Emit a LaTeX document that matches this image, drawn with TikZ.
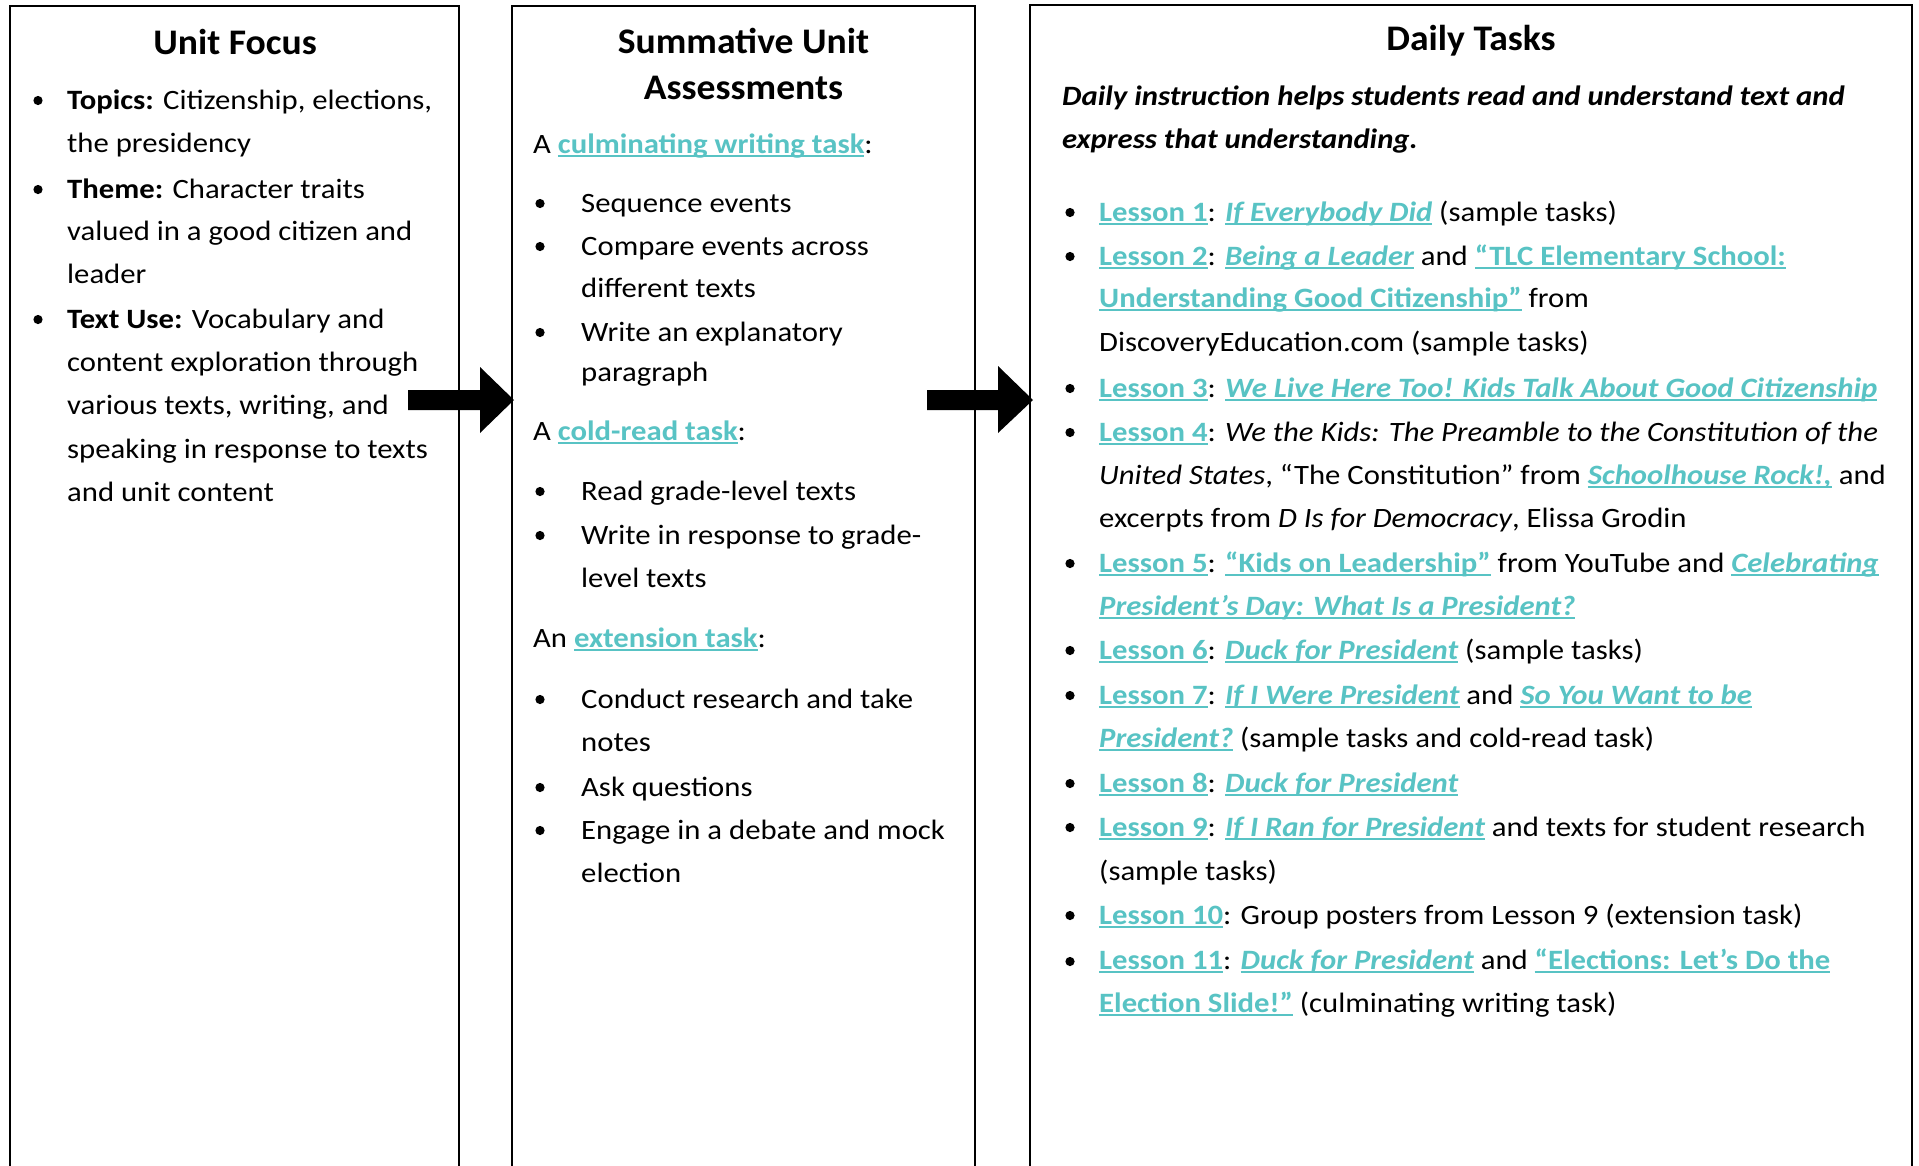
\documentclass[tikz,border=0pt]{standalone}
\usepackage{fontspec}
\setmainfont{Carlito}[FakeStretch=1.097]
\newfontfamily\headfont{Carlito}[FakeStretch=1.045]
\definecolor{lk}{RGB}{88,195,196}
\newcommand\lnk[1]{{\color{lk}\bfseries\setbox0\hbox{#1}\rlap{\rule[-4.4pt]{\wd0}{2.7pt}}\box0}}
\tikzset{
  boxline/.style={line width=2.6pt, black},
  txt/.style={anchor=base west, inner sep=0pt, font=\fontsize{28}{34}\selectfont},
  head/.style={anchor=base, inner sep=0pt, font=\headfont\fontsize{36}{44}\selectfont\bfseries},
  bul/.style={fill=black},
  bigarrow/.style={fill=black}
}
\begin{document}
\begin{tikzpicture}[x=1pt,y=-1pt]
\fill[white] (0,0) rectangle (1919,1165);
\useasboundingbox (0,0) rectangle (1919,1165);
% boxes (open at the bottom)
\coordinate (b1tl) at (10,6);   \coordinate (b1tr) at (459,6);
\coordinate (b2tl) at (512,6);  \coordinate (b2tr) at (975,6);
\coordinate (b3tl) at (1030,5); \coordinate (b3tr) at (1912,5);
\draw[boxline] (10,1170) -- (b1tl) -- (b1tr) -- (459,1170);
\draw[boxline] (512,1170) -- (b2tl) -- (b2tr) -- (975,1170);
\draw[boxline] (1030,1170) -- (b3tl) -- (b3tr) -- (1912,1170);
% arrows
\coordinate (a1tip) at (514,400);
\coordinate (a2tip) at (1033,400);
\fill[bigarrow] (408,390) -- (480,390) -- (480,367) -- (a1tip) -- (480,433) -- (480,410) -- (408,410) -- cycle;
\fill[bigarrow] (927,390) -- (998,390) -- (998,366) -- (a2tip) -- (998,433) -- (998,410) -- (927,410) -- cycle;

% ---- Box 1
\node[head] (h1) at (235,54) {Unit Focus};
\foreach \y in {109,198,328} {\fill[bul] (38,\y-8.5) circle[radius=4.6pt];}
\node[txt] (u1) at (67,109) {\textbf{Topics:} Citizenship, elections,};
\node[txt] (u2) at (67,152) {the presidency};
\node[txt] (u3) at (67,198) {\textbf{Theme:} Character traits};
\node[txt] (u4) at (67,240) {valued in a good citizen and};
\node[txt] (u5) at (67,283) {leader};
\node[txt] (u6) at (67,328) {\textbf{Text Use:} Vocabulary and};
\node[txt] (u7) at (67,371) {content exploration through};
\node[txt] (u8) at (67,414) {various texts, writing, and};
\node[txt] (u9) at (67,458) {speaking in response to texts};
\node[txt] (u10) at (67,501) {and unit content};

% ---- Box 2
\node[head] (h2a) at (743.5,53) {Summative Unit};
\node[head] (h2b) at (743.5,99) {Assessments};
\foreach \y in {212,255,341,500,544,708,796,839} {\fill[bul] (540,\y-8.5) circle[radius=4.6pt];}
\node[txt] (s1) at (533,153) {A \lnk{culminating writing task}:};
\node[txt] (s2) at (581,212) {Sequence events};
\node[txt] (s3) at (581,255) {Compare events across};
\node[txt] (s4) at (581,297) {different texts};
\node[txt] (s5) at (581,341) {Write an explanatory};
\node[txt] (s6) at (581,381) {paragraph};
\node[txt] (s7) at (533,440) {A \lnk{cold-read task}:};
\node[txt] (s8) at (581,500) {Read grade-level texts};
\node[txt] (s9) at (581,544) {Write in response to grade-};
\node[txt] (s10) at (581,587) {level texts};
\node[txt] (s11) at (533,647) {An \lnk{extension task}:};
\node[txt] (s12) at (581,708) {Conduct research and take};
\node[txt] (s13) at (581,751) {notes};
\node[txt] (s14) at (581,796) {Ask questions};
\node[txt] (s15) at (581,839) {Engage in a debate and mock};
\node[txt] (s16) at (581,882) {election};

% ---- Box 3
\node[head] (h3) at (1471,50) {Daily Tasks};
\node[txt,font=\fontsize{28}{34}\selectfont\bfseries\itshape] (d1) at (1062,105) {Daily instruction helps students read and understand text and};
\node[txt,font=\fontsize{28}{34}\selectfont\bfseries\itshape] (d2) at (1062,148) {express that understanding.};
\foreach \y in {221,265,397,441,572,659,704,792,836,924,970} {\fill[bul] (1070,\y-8.5) circle[radius=4.6pt];}
\node[txt] (l1) at (1099,221) {\lnk{Lesson 1}: \lnk{\itshape If Everybody Did} (sample tasks)};
\node[txt] (l2) at (1099,265) {\lnk{Lesson 2}: \lnk{\itshape Being a Leader} and \lnk{“TLC Elementary School:}};
\node[txt] (l2b) at (1099,307) {\lnk{Understanding Good Citizenship”} from};
\node[txt] (l2c) at (1099,351) {DiscoveryEducation.com (sample tasks)};
\node[txt] (l3) at (1099,397) {\lnk{Lesson 3}: \lnk{\itshape We Live Here Too! Kids Talk About Good Citizenship}};
\node[txt] (l4) at (1099,441) {\lnk{Lesson 4}: \textit{We the Kids: The Preamble to the Constitution of the}};
\node[txt] (l4b) at (1099,484) {\textit{United States}, “The Constitution” from \lnk{\itshape Schoolhouse Rock!,} and};
\node[txt] (l4c) at (1099,527) {excerpts from \textit{D Is for Democracy}, Elissa Grodin};
\node[txt] (l5) at (1099,572) {\lnk{Lesson 5}: \lnk{“Kids on Leadership”} from YouTube and \lnk{\itshape Celebrating}};
\node[txt] (l5b) at (1099,615) {\lnk{\itshape President’s Day: What Is a President?}};
\node[txt] (l6) at (1099,659) {\lnk{Lesson 6}: \lnk{\itshape Duck for President} (sample tasks)};
\node[txt] (l7) at (1099,704) {\lnk{Lesson 7}: \lnk{\itshape If I Were President} and \lnk{\itshape So You Want to be}};
\node[txt] (l7b) at (1099,747) {\lnk{\itshape President?} (sample tasks and cold-read task)};
\node[txt] (l8) at (1099,792) {\lnk{Lesson 8}: \lnk{\itshape Duck for President}};
\node[txt] (l9) at (1099,836) {\lnk{Lesson 9}: \lnk{\itshape If I Ran for President} and texts for student research};
\node[txt] (l9b) at (1099,880) {(sample tasks)};
\node[txt] (l10) at (1099,924) {\lnk{Lesson 10}: Group posters from Lesson 9 (extension task)};
\node[txt] (l11) at (1099,969) {\lnk{Lesson 11}: \lnk{\itshape Duck for President} and \lnk{“Elections: Let’s Do the}};
\node[txt] (l11b) at (1099,1012) {\lnk{Election Slide!”} (culminating writing task)};
\end{tikzpicture}
\end{document}
